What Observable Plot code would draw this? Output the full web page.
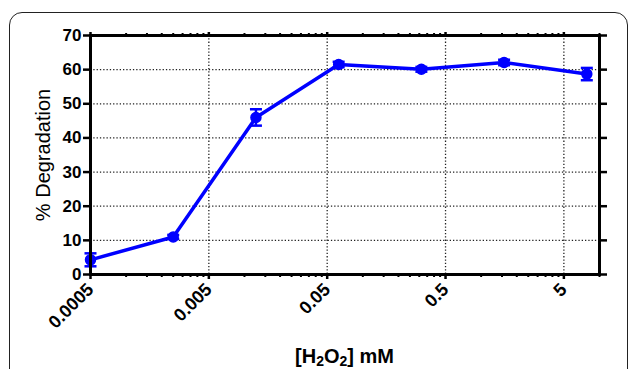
<!DOCTYPE html>
<html>
<head>
<meta charset="utf-8">
<script src="https://cdn.jsdelivr.net/npm/d3@7"></script>
<script src="https://cdn.jsdelivr.net/npm/@observablehq/plot@0.6"></script>
<style>
  html, body { margin: 0; padding: 0; background: #fff; }
  #wrap { position: relative; width: 629px; height: 369px; overflow: hidden; }
  #frame { position: absolute; left: 9px; top: 12px; width: 619px; height: 420px; box-sizing: border-box;
           border: 1.5px solid #222; border-radius: 13px; }
  #chart { position: absolute; left: 0; top: 0; }
  #xtitle { position: absolute; left: 90px; width: 509px; top: 346px; line-height: 20px; text-align: center;
            font-family: "Liberation Sans", Arial, sans-serif; font-weight: bold; font-size: 20px; color: #000; }
  #xtitle sub { font-size: 0.7em; line-height: 1; vertical-align: baseline; position: relative; top: 0.22em; }
</style>
</head>
<body>
<div id="wrap">
  <div id="frame"></div>
  <div id="chart"></div>
  <div id="xtitle">[H<sub>2</sub>O<sub>2</sub>] mM</div>
</div>
<script>
// Data
const concentrations = [0.0005, 0.0025, 0.0125, 0.0625, 0.3125, 1.5625, 7.8125];
const degradation    = [4.3, 11.0, 46.0, 61.5, 60.1, 62.1, 58.7];
const errors         = [1.9, 0.6, 2.4, 0.8, 0.7, 0.8, 1.8];

// Axis ticks
const xMajorTicks  = [0.0005, 0.005, 0.05, 0.5, 5];
const xTickLabels  = ["0.0005", "0.005", "0.05", "0.5", "5"];
const xDecades     = [0.0005, 0.005, 0.05, 0.5, 5];
const minorSteps   = [2, 3, 4, 5, 6, 7, 8, 9];
const xMax         = 10;
const xGridTicks   = [0.005, 0.05, 0.5, 5];
const yTicks       = [0, 10, 20, 30, 40, 50, 60, 70];
const yGridTicks   = [10, 20, 30, 40, 50, 60];
const yLabel       = "% Degradation";

const data = concentrations.map((c, i) => ({x: c, y: degradation[i], lo: degradation[i] - errors[i], hi: degradation[i] + errors[i]}));
const xMinorTicks = xDecades.flatMap(d => minorSteps.map(k => +(d * k).toPrecision(6))).filter(v => v <= xMax);
const xLabelData = xMajorTicks.map((v, i) => ({x: v, label: xTickLabels[i]}));

const capSymbol = {
  draw(ctx, size) {
    const r = 6;
    ctx.moveTo(-r, 0);
    ctx.lineTo(r, 0);
  }
};

const blue = "#0000ff";
const font = "'Liberation Sans', Arial, sans-serif";

const chart = Plot.plot({
  width: 629,
  height: 369,
  marginLeft: 90,
  marginRight: 30,
  marginTop: 35,
  marginBottom: 95,
  style: {fontFamily: font, background: "transparent", color: "#000", overflow: "visible"},
  x: {type: "log", domain: [0.0005, xMax]},
  y: {domain: [0, 70]},
  marks: [
    Plot.gridY(yGridTicks, {stroke: "#222", strokeOpacity: 1, strokeWidth: 1.3, strokeDasharray: "1.3,2"}),
    Plot.gridX(xGridTicks, {stroke: "#222", strokeOpacity: 1, strokeWidth: 1.3, strokeDasharray: "1.3,2"}),
    Plot.line(data, {x: "x", y: "y", stroke: blue, strokeWidth: 3.5}),
    Plot.ruleX(data, {x: "x", y1: "lo", y2: "hi", stroke: blue, strokeWidth: 2.5}),
    Plot.dot(data, {x: "x", y: "lo", symbol: capSymbol, r: 6, stroke: blue, strokeWidth: 2.5, fill: "none"}),
    Plot.dot(data, {x: "x", y: "hi", symbol: capSymbol, r: 6, stroke: blue, strokeWidth: 2.5, fill: "none"}),
    Plot.dot(data, {x: "x", y: "y", r: 5, fill: blue, stroke: blue}),
    Plot.frame({stroke: "#000", strokeWidth: 3}),
    Plot.axisY(yTicks, {anchor: "left", tickSize: 7, tickPadding: 2, strokeWidth: 2.5, fontSize: 17, fontWeight: "bold", label: null}),
    Plot.axisY(yTicks, {anchor: "right", tickSize: 7, strokeWidth: 2.5, tickFormat: () => "", label: null}),
    Plot.axisX(xMajorTicks, {anchor: "bottom", tickSize: 5, strokeWidth: 2.5, tickFormat: () => "", label: null}),
    Plot.axisX(xMinorTicks, {anchor: "bottom", tickSize: 3, strokeWidth: 2, tickFormat: () => "", label: null}),
    Plot.axisX(xMajorTicks, {anchor: "top", tickSize: 4, strokeWidth: 2.5, tickFormat: () => "", label: null}),
    Plot.axisX(xMinorTicks, {anchor: "top", tickSize: 3, strokeWidth: 2, tickFormat: () => "", label: null}),
    Plot.text(xLabelData, {x: "x", frameAnchor: "bottom", text: "label", rotate: -45, textAnchor: "end",
      lineAnchor: "middle", dx: 0, dy: 12, fontSize: 18, fontWeight: "bold", fill: "#000"}),
    Plot.text([yLabel], {frameAnchor: "left", dx: -47, rotate: -90, fontSize: 20, fontWeight: "normal",
      textAnchor: "middle", lineAnchor: "middle", fill: "#000"})
  ]
});

document.getElementById("chart").appendChild(chart);
</script>
</body>
</html>
